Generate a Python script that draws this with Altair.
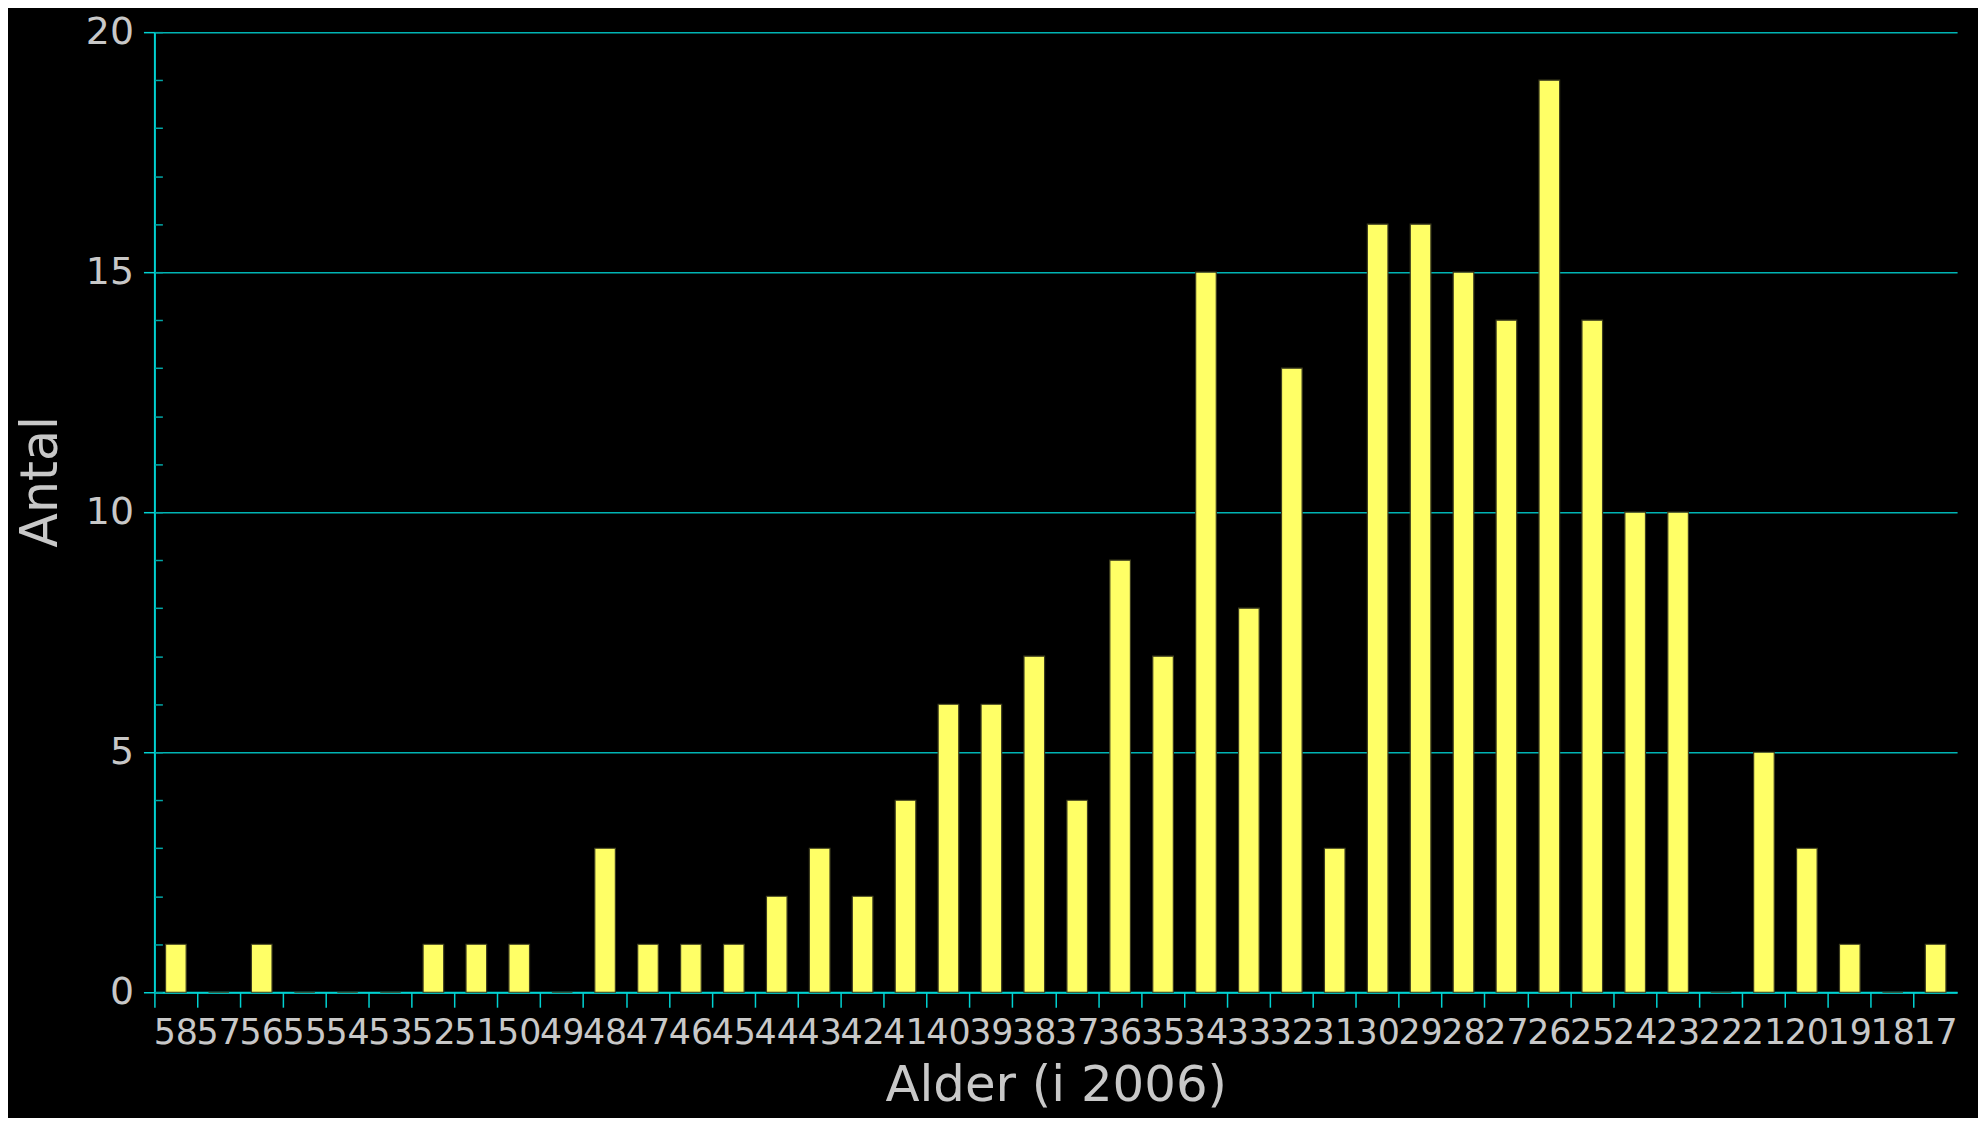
import altair as alt
import pandas as pd

ages = [str(a) for a in range(58, 16, -1)]
counts = [1, 0, 1, 0, 0, 0, 1, 1, 1, 0,
          3, 1, 1, 1, 2, 3, 2, 4, 6, 6,
          7, 4, 9, 7, 15, 8, 13, 3, 16, 16,
          15, 14, 19, 14, 10, 10, 0, 5, 3, 1,
          0, 1]
major_ticks = [0, 5, 10, 15, 20]
minor_ticks = list(range(0, 21))

df = pd.DataFrame({"Alder": ages, "Antal": counts})

FONT = "DejaVu Sans"
LBL = "#c8c8c8"
CYAN = "#00d2d2"
GRID = "#00b4b4"

xenc = alt.X(
    "Alder:N",
    sort=ages,
    scale=alt.Scale(paddingInner=0, paddingOuter=0),
    axis=alt.Axis(
        title="Alder (i 2006)",
        titleFont=FONT, titleFontSize=50, titleColor=LBL, titleFontWeight="normal",
        titleBaseline="alphabetic", titleY=109,
        labelFont=FONT, labelFontSize=35, labelColor=LBL, labelAngle=0,
        labelOverlap=False, labelBaseline="alphabetic", labelPadding=36,
        bandPosition=0, tickSize=15, tickColor=CYAN, tickWidth=1.5,
        domainColor=CYAN, domainWidth=2, grid=False,
    ),
)

bars = alt.Chart(df).mark_bar(
    width=alt.RelativeBandSize(0.48),
    fill="#ffff66", stroke="#3d3d1f", strokeWidth=1.2,
).encode(
    x=xenc,
    y=alt.Y(
        "Antal:Q",
        scale=alt.Scale(domain=[0, 20], nice=False),
        axis=alt.Axis(
            orient="left",
            values=major_ticks,
            title="Antal",
            titleFont=FONT, titleFontSize=51, titleColor=LBL, titleFontWeight="normal",
            titleAngle=-90, titleBaseline="alphabetic", titleAlign="center",
            titleX=-98, titleY=451,
            labelFont=FONT, labelFontSize=38, labelColor=LBL, labelPadding=10,
            tickSize=11, tickColor=CYAN, tickWidth=1.5,
            domainColor=CYAN, domainWidth=2,
            grid=True, gridColor=GRID, gridWidth=1.5,
        ),
    ),
)

minor = alt.Chart(df).mark_bar(opacity=0).encode(
    x=alt.X("Alder:N", sort=ages),
    y=alt.Y(
        "Antal:Q",
        axis=alt.Axis(
            orient="left", values=minor_ticks, title=None, labels=False,
            domain=False, grid=False, tickSize=8, offset=-8,
            tickColor="#00a8a8", tickWidth=1.5,
        ),
    ),
)

chart = alt.layer(bars, minor).resolve_axis(y="independent").properties(
    width=1810,
    height=964,
    autosize=alt.AutoSizeParams(type="none"),
    padding={"left": 147, "top": 22, "right": 21, "bottom": 124},
    background="black",
).configure_view(stroke=None)

chart.save("out.html", embed_options={"renderer": "svg", "actions": False})
